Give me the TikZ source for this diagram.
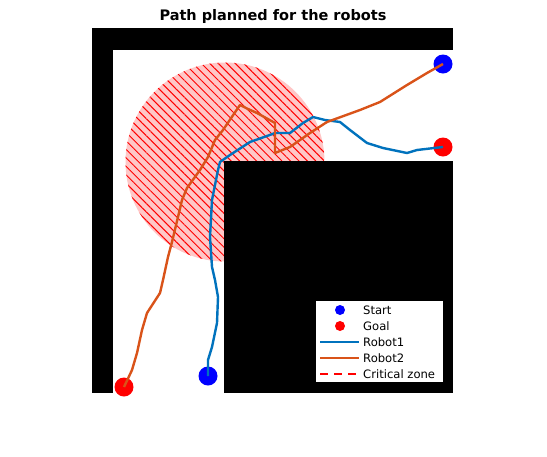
\documentclass[tikz,border=0pt]{standalone}
\usepackage{fontspec}
\setmainfont{DejaVu Sans}
\usepackage{tikz}
\usetikzlibrary{patterns.meta,positioning}
\definecolor{rbtA}{RGB}{0,114,189}
\definecolor{rbtB}{RGB}{217,83,25}

\begin{document}
\begin{tikzpicture}[
  x=1pt,y=-1pt,
  node distance=4pt,
  wall/.style={fill=black},
  zone/.style={pattern={Lines[angle=-45,distance=6pt,line width=1pt]},pattern color=red},
  marker/.style={circle,inner sep=0pt,minimum size=19pt},
  startpt/.style={marker,fill=blue},
  goalpt/.style={marker,fill=red},
  rbt1/.style={rbtA,line width=2.4pt,line join=round},
  rbt2/.style={rbtB,line width=2.4pt,line join=round},
  legdot/.style={circle,inner sep=0pt,minimum size=10pt},
  legtxt/.style={font=\fontsize{11.6}{13}\selectfont,inner sep=0pt,right=of #1,anchor=west}
]
\useasboundingbox[fill=white] (0,0) rectangle (547,456);
\node[font=\bfseries\fontsize{14.5}{16}\selectfont,anchor=base] (title) at (273,20.7) {Path planned for the robots};

% critical zone
\fill[red!22] (225,162) circle[radius=99.5];
\path[zone] (225,162) circle[radius=99.5];

% map
\fill[wall] (92,28) rectangle (453,50);
\fill[wall] (92,28) rectangle (113,393);
\fill[wall] (224,161) rectangle (453,393);

% start / goal
\node[startpt] (s1) at (208,376) {};
\node[goalpt]  (g1) at (443,147) {};
\node[startpt] (s2) at (443,64) {};
\node[goalpt]  (g2) at (124,387) {};

% robot paths
\draw[rbt1] (s1.center) -- (208,360) -- (212,347) -- (217,323) -- (218,297) -- (215,280)
  -- (212,267) -- (210,237) -- (212,200) -- (218,170) -- (220,162) -- (230,155) -- (250,142)
  -- (267,136) -- (275,133) -- (290,133) -- (303,123) -- (313,117) -- (325,120) -- (340,122)
  -- (350,130) -- (367,143) -- (383,148) -- (407,153) -- (417,150) -- (g1.center);
\draw[rbt2] (s2.center) -- (427,73) -- (407,85) -- (380,102) -- (360,110) -- (327,122)
  -- (310,133) -- (290,147) -- (275,153) -- (275,123) -- (257,113) -- (248,109) -- (240,105)
  -- (223,130) -- (215,140) -- (208,157) -- (200,170) -- (187,188) -- (182,200) -- (178,217)
  -- (172,242) -- (168,257) -- (163,280) -- (160,293) -- (147,313) -- (142,330) -- (137,353)
  -- (132,370) -- (g2.center);

% legend
\draw[fill=white,line width=0.6pt] (315,300) rectangle (443,382);
\node[legdot,fill=blue] (lS) at (340,310) {};
\node[legdot,fill=red]  (lG) at (340,326) {};
\coordinate (lA0) at (320,342); \coordinate (lA1) at (359,342);
\coordinate (lB0) at (320,358); \coordinate (lB1) at (359,358);
\coordinate (lC0) at (320,374); \coordinate (lC1) at (359,374);
\draw[rbtA,line width=2.4pt] (lA0) -- (lA1);
\draw[rbtB,line width=2.4pt] (lB0) -- (lB1);
\draw[red,line width=2.4pt,dash pattern=on 8pt off 6pt] (lC0) -- (lC1);
\node[legtxt=lA1] at (lA1 |- lS) {Start};
\node[legtxt=lA1] at (lA1 |- lG) {Goal};
\node[legtxt=lA1] {Robot1};
\node[legtxt=lB1] {Robot2};
\node[legtxt=lC1] {Critical zone};
\end{tikzpicture}
\end{document}
